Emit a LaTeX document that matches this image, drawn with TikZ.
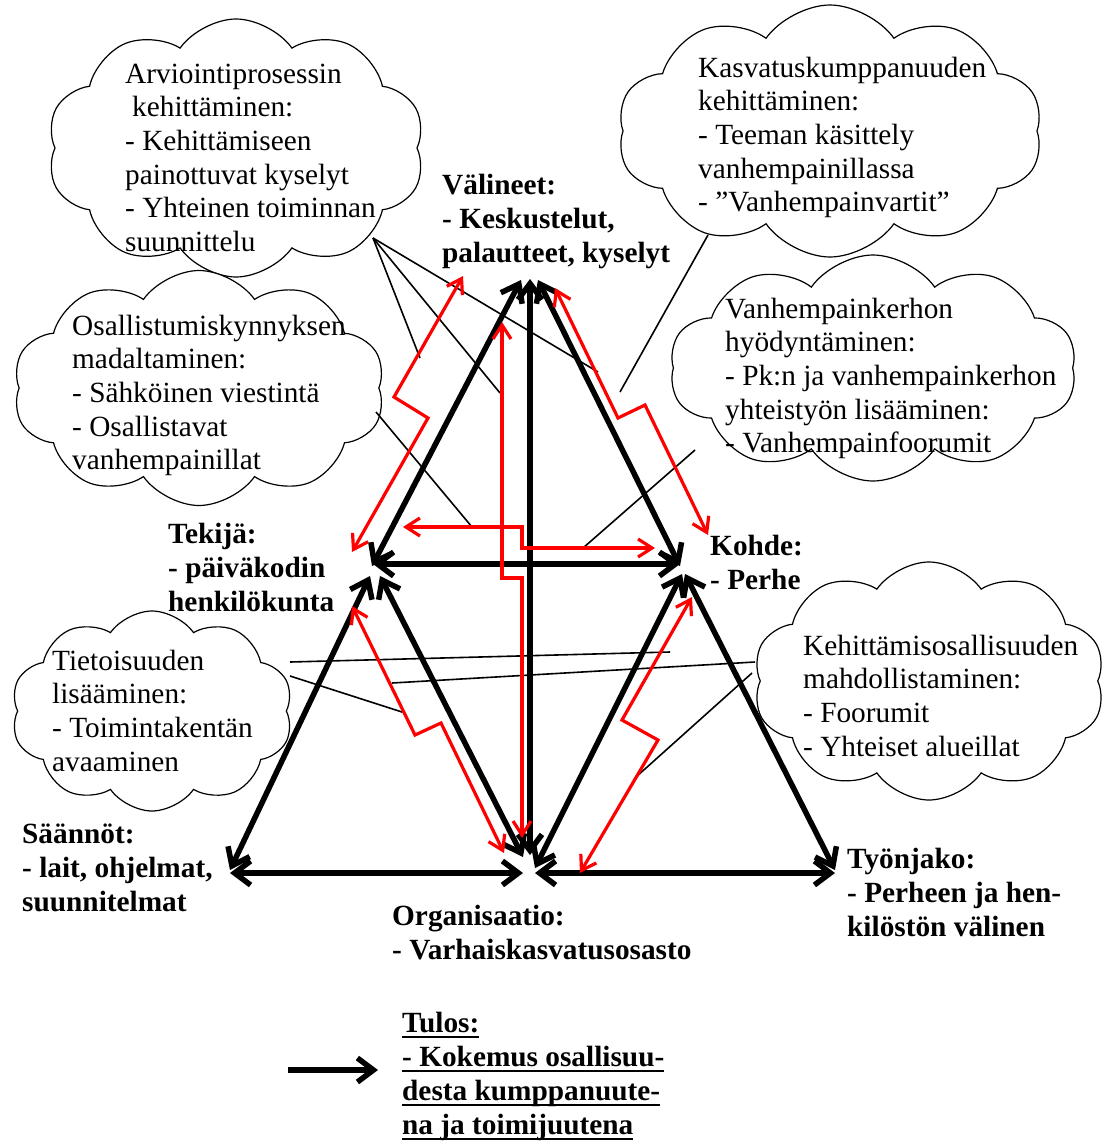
\documentclass[tikz,border=0pt]{standalone}
\usepackage{fontspec}
\setmainfont{Liberation Serif}
\usetikzlibrary{shapes.symbols,arrows.meta}
\newcommand\fstrut{\rule{0pt}{24pt}}
\newcommand\ulin[1]{\setbox0\hbox{#1}\rlap{\rule[-6pt]{\wd0}{2pt}}\box0}
\tikzset{
  cloudbox/.style={cloud, cloud puffs=10, cloud puff arc=110, cloud ignores aspect,
    draw, line width=1.2pt, fill=white, inner sep=0pt},
  ctext/.style={anchor=north west, inner sep=0pt, align=left,
    font=\fontsize{29.3}{33.6}\selectfont},
  btext/.style={anchor=north west, inner sep=0pt, align=left,
    font=\fontsize{29.3}{34}\selectfont\bfseries},
  bigarrow/.style={line width=5.5pt, >={Straight Barb[length=16pt,width=24pt]}, <->},
  redarrow/.style={draw=red, line width=3.2pt, >={Straight Barb[length=14pt,width=18pt]}, <->},
  thinline/.style={line width=1.6pt},
}
\begin{document}
\begin{tikzpicture}[x=1pt,y=-1pt]
\useasboundingbox (0,0) rectangle (1109,1141);
% clouds
\node[cloudbox, minimum width=378pt, minimum height=258pt] (c1) at (236,148) {};
\node[cloudbox, minimum width=425pt, minimum height=252pt] (c2) at (830,131) {};
\node[cloudbox, minimum width=372pt, minimum height=235pt] (c3) at (199,388) {};
\node[cloudbox, minimum width=407pt, minimum height=226pt] (c4) at (873,368) {};
\node[cloudbox, minimum width=282pt, minimum height=200pt] (c5) at (152,711) {};
\node[cloudbox, minimum width=352pt, minimum height=238pt] (c6) at (929,681) {};

% connector ends
\coordinate (c1out) at (373,238);
\coordinate (c1e1) at (420,358);
\coordinate (c1e2) at (500,393);
\coordinate (c1e3) at (598,372);
\coordinate (c2out) at (708,235);
\coordinate (c2e) at (620,392);
\coordinate (c3out) at (376,412);
\coordinate (c3e) at (472,527);
\coordinate (c4out) at (695,450);
\coordinate (c4e) at (583,548);
\coordinate (c5outa) at (290,662);
\coordinate (c5ea) at (670,652);
\coordinate (c5outb) at (290,676);
\coordinate (c5eb) at (402,712);
\coordinate (c6outa) at (755,662);
\coordinate (c6ea) at (392,683);
\coordinate (c6outb) at (752,673);
\coordinate (c6eb) at (636,777);

\draw[thinline] (c1out) -- (c1e1);
\draw[thinline] (c1out) -- (c1e2);
\draw[thinline] (c1out) -- (c1e3);
\draw[thinline] (c2out) -- (c2e);
\draw[thinline] (c3out) -- (c3e);
\draw[thinline] (c4out) -- (c4e);
\draw[thinline] (c5outa) -- (c5ea);
\draw[thinline] (c5outb) -- (c5eb);
\draw[thinline] (c6outa) -- (c6ea);
\draw[thinline] (c6outb) -- (c6eb);

% triangle arrow ends
\coordinate (vTl) at (521,280);
\coordinate (vTc) at (530,279);
\coordinate (vTr) at (538,280);
\coordinate (tA) at (372,566);
\coordinate (tH) at (373,564);
\coordinate (tS) at (370,576);
\coordinate (tO) at (380,576);
\coordinate (kA) at (680,566);
\coordinate (kH) at (680,564);
\coordinate (kO) at (682,574);
\coordinate (kY) at (685,574);
\coordinate (sD) at (230,870);
\coordinate (sH) at (230,873);
\coordinate (oT) at (523,857);
\coordinate (oC) at (530,855);
\coordinate (oK) at (535,868);
\coordinate (oHl) at (523,873);
\coordinate (oHr) at (535,873);
\coordinate (yD) at (835,870);
\coordinate (yH) at (835,873);

\draw[bigarrow] (tA) -- (vTl);
\draw[bigarrow] (vTc) -- (oC);
\draw[bigarrow] (vTr) -- (kA);
\draw[bigarrow] (tH) -- (kH);
\draw[bigarrow] (tS) -- (sD);
\draw[bigarrow] (tO) -- (oT);
\draw[bigarrow] (sH) -- (oHl);
\draw[bigarrow] (oHr) -- (yH);
\draw[bigarrow] (kO) -- (oK);
\draw[bigarrow] (kY) -- (yD);

% red arrows
\coordinate (r1a) at (352,552);
\coordinate (r1b) at (463,276);
\coordinate (r2a) at (502,322);
\coordinate (r2b) at (522,838);
\coordinate (r3a) at (403,527);
\coordinate (r3b) at (655,548);
\coordinate (r4a) at (555,288);
\coordinate (r4b) at (708,535);
\coordinate (r5a) at (352,606);
\coordinate (r5b) at (504,853);
\coordinate (r6a) at (692,597);
\coordinate (r6b) at (580,873);
\draw[redarrow] (r1a) -- (428,418) -- (394,397) -- (r1b);
\draw[redarrow] (r2a) -- (502,578) -- (522,578) -- (r2b);
\draw[redarrow] (r3a) -- (522,527) -- (522,548) -- (r3b);
\draw[redarrow] (r4a) -- (618,418) -- (645,405) -- (r4b);
\draw[redarrow] (r5a) -- (415,735) -- (441,723) -- (r5b);
\draw[redarrow] (r6a) -- (622,720) -- (658,740) -- (r6b);

% legend arrow
\coordinate (lgA) at (288,1070);
\coordinate (lgB) at (378,1070);
\draw[line width=5.5pt, -{Straight Barb[length=16pt,width=24pt]}] (lgA) -- (lgB);

% cloud texts
\node[ctext] (t1) at (125,59) {\fstrut Arviointiprosessin\\\hspace*{7pt}kehittäminen:\\- Kehittämiseen\\painottuvat kyselyt\\- Yhteinen toiminnan\\suunnittelu};
\node[ctext] (t2) at (698,53) {\fstrut Kasvatuskumppanuuden\\kehittäminen:\\- Teeman käsittely\\vanhempainillassa\\- ”Vanhempainvartit”};
\node[ctext] (t3) at (72,311) {\fstrut Osallistumiskynnyksen\\madaltaminen:\\- Sähköinen viestintä\\- Osallistavat\\vanhempainillat};
\node[ctext] (t4) at (725,294) {\fstrut Vanhempainkerhon\\hyödyntäminen:\\- Pk:n ja vanhempainkerhon\\yhteistyön lisääminen:\\- Vanhempainfoorumit};
\node[ctext] (t5) at (52,646) {\fstrut Tietoisuuden\\lisääminen:\\- Toimintakentän\\avaaminen};
\node[ctext] (t6) at (803,631) {\fstrut Kehittämisosallisuuden\\mahdollistaminen:\\- Foorumit\\- Yhteiset alueillat};

% vertex labels
\node[btext] (lV) at (442,170) {\fstrut Välineet:\\- Keskustelut,\\palautteet, kyselyt};
\node[btext] (lT) at (168,519) {\fstrut Tekijä:\\- päiväkodin\\henkilökunta};
\node[btext] (lK) at (710,531) {\fstrut Kohde:\\- Perhe};
\node[btext] (lS) at (22,819) {\fstrut Säännöt:\\- lait, ohjelmat,\\suunnitelmat};
\node[btext] (lO) at (392,901) {\fstrut Organisaatio:\\- Varhaiskasvatusosasto};
\node[btext] (lY) at (847,844) {\fstrut Työnjako:\\- Perheen ja hen-\\kilöstön välinen};
\node[btext] (lR) at (402,1008) {\fstrut\ulin{Tulos:}\\\ulin{- Kokemus osallisuu-}\\\ulin{desta kumppanuute-}\\\ulin{na ja toimijuutena}};
\end{tikzpicture}
\end{document}
